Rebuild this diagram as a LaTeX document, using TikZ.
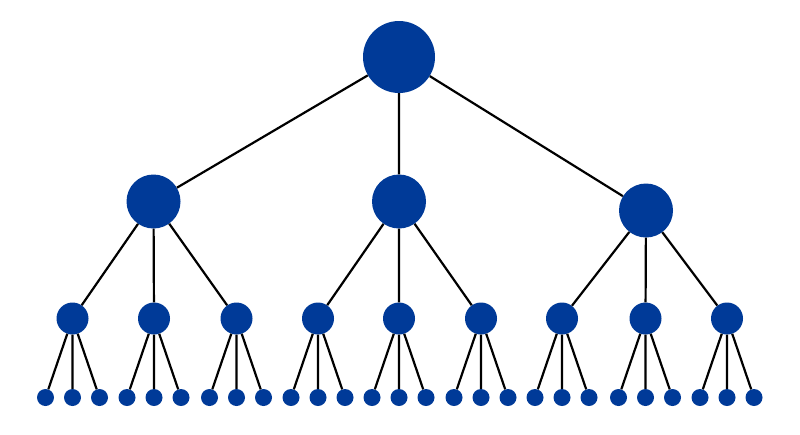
\documentclass[tikz,border=0pt]{standalone}
\definecolor{nodeblue}{RGB}{0,58,152}
\begin{document}
\begin{tikzpicture}[x=1pt,y=-1pt,
  dot/.style={circle,fill=nodeblue,draw=none,inner sep=0pt},
  lvla/.style={dot,minimum size=72pt},
  lvlb/.style={dot,minimum size=54pt},
  lvlc/.style={dot,minimum size=32pt},
  lvld/.style={dot,minimum size=17pt},
  edge/.style={draw=black,line width=2.2pt}]
\useasboundingbox (0,0) rectangle (800,434);
\node[lvla] (r) at (399,57) {};
\node[lvlb] (a) at (153.5,201.5) {};
\node[lvlb] (b) at (399,201.5) {};
\node[lvlb] (c) at (646,210.5) {};
\foreach \i/\x in {1/72.5,2/154,3/236.5,4/318,5/399,6/481,7/562,8/645.5,9/727}{
  \node[lvlc] (m\i) at (\x,318.5) {};
  \node[lvld] (l\i a) at (\x-27,397.5) {};
  \node[lvld] (l\i b) at (\x,397.5) {};
  \node[lvld] (l\i c) at (\x+27,397.5) {};
}
\begin{scope}[on background layer/.try]
\end{scope}
\path[edge] (r) -- (a) (r) -- (b) (r) -- (c);
\path[edge] (a) -- (m1) (a) -- (m2) (a) -- (m3);
\path[edge] (b) -- (m4) (b) -- (m5) (b) -- (m6);
\path[edge] (c) -- (m7) (c) -- (m8) (c) -- (m9);
\foreach \i in {1,...,9}{
  \path[edge] (m\i) -- (l\i a) (m\i) -- (l\i b) (m\i) -- (l\i c);
}
\end{tikzpicture}
\end{document}
